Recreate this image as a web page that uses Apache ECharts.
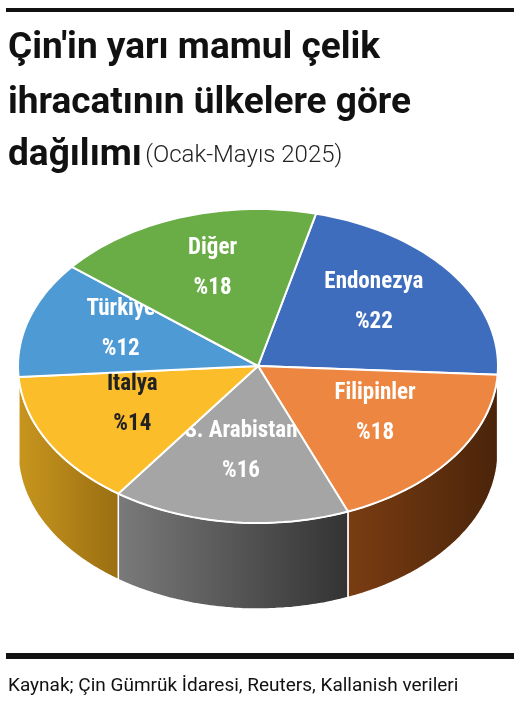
<!DOCTYPE html><html><head><meta charset="utf-8">
<script src="https://cdn.jsdelivr.net/npm/echarts@6/dist/echarts.min.js"></script>
<style>html,body{margin:0;background:#fff}#c{width:519px;height:707px}</style></head><body><div id="c"></div>
<script>
const categories=['Endonezya','Filipinler','S. Arabistan','İtalya','Türkiye','Diğer'];
const values=[22,18,16,14,12,18];
const labels=['%22','%18','%16','%14','%12','%18'];
const topColors=['#3F6DBE','#EC8640','#A5A5A5','#FCBD2B','#4E9AD5','#6AAD47'];
const sideColors=[['#1f3a6a','#2c4f8f'],['#7a3d12','#4a240a'],['#7a7a7a','#333333'],['#c8961e','#9a6e12'],['#2a5f8c','#1d4466'],['#3e6e28','#2a4e1a']];
const labelColors=['#fff','#fff','#fff','#222','#fff','#fff'];
const F="'Liberation Sans Narrow','Roboto Condensed','DejaVu Sans Condensed',sans-serif";
const R="Roboto,sans-serif";
const cx=258,cy=366,rx=240,ry=157,depth=86,rot=14;
const total=values.reduce((a,b)=>a+b,0);
const starts=[];let acc=0;values.forEach(v=>{starts.push(acc/total*360+rot);acc+=v;});
function pt(deg,dy){const r=deg*Math.PI/180;return [cx+rx*Math.sin(r),cy-ry*Math.cos(r)+(dy||0)];}
function arc(a1,a2,dy){const n=Math.max(2,Math.ceil((a2-a1)/2));const p=[];for(let i=0;i<=n;i++)p.push(pt(a1+(a2-a1)*i/n,dy));return p;}
const data=values.map((v,i)=>({name:categories[i],value:v}));
const chart=echarts.init(document.getElementById('c'));
chart.setOption({
 animation:false,
 xAxis:{show:false},yAxis:{show:false},
 graphic:[
  {type:'rect',shape:{x:6,y:8,width:508,height:4},style:{fill:'#111'}},
  {type:'text',left:8,top:30,style:{text:"Çin'in yarı mamul çelik",font:"bold 37px "+R,fill:'#111'}},
  {type:'text',left:8,top:85,style:{text:"ihracatının ülkelere göre",font:"bold 37px "+R,fill:'#111'}},
  {type:'text',left:8,top:137,style:{text:'{a|dağılımı} {b|(Ocak-Mayıs 2025)}',rich:{a:{font:"bold 37px "+R,fill:'#111'},b:{font:"300 24px "+R,fill:'#222'}}}},
  {type:'rect',shape:{x:6,y:653,width:508,height:6},style:{fill:'#111'}},
  {type:'text',left:8,top:677,style:{text:'Kaynak; Çin Gümrük İdaresi, Reuters, Kallanish verileri',font:"19px "+R,fill:'#111'}}
 ],
 series:[
  {type:'custom',coordinateSystem:'none',data:data,z:1,renderItem:function(p){
    const i=p.dataIndex;const a1=starts[i],a2=a1+values[i]/total*360;
    const s=Math.max(a1,90),e=Math.min(a2,270);
    if(e<=s)return {type:'group',children:[]};
    const pts=arc(s,e,0).concat(arc(s,e,depth).reverse());
    return {type:'polygon',shape:{points:pts},style:{fill:new echarts.graphic.LinearGradient(0,0,1,0,[{offset:0,color:sideColors[i][0]},{offset:1,color:sideColors[i][1]}]),stroke:'#fff',lineWidth:1.5}};
  }},
  {type:'custom',coordinateSystem:'none',data:data,z:2,renderItem:function(p){
    const i=p.dataIndex;const a1=starts[i],a2=a1+values[i]/total*360;
    const pts=[[cx,cy]].concat(arc(a1,a2,0));
    const m=(a1+a2)/2,r=m*Math.PI/180,f=0.6;
    const lx=cx+rx*f*Math.sin(r),ly=cy-ry*f*Math.cos(r)-8;
    return {type:'group',children:[
      {type:'polygon',shape:{points:pts},style:{fill:topColors[i],stroke:'#fff',lineWidth:2}},
      {type:'text',x:lx,y:ly,style:{text:categories[i]+'\n'+labels[i],font:"bold 23px "+F,fill:labelColors[i],align:'center',verticalAlign:'middle',lineHeight:40}}
    ]};
  }}
 ]
});
</script></body></html>
